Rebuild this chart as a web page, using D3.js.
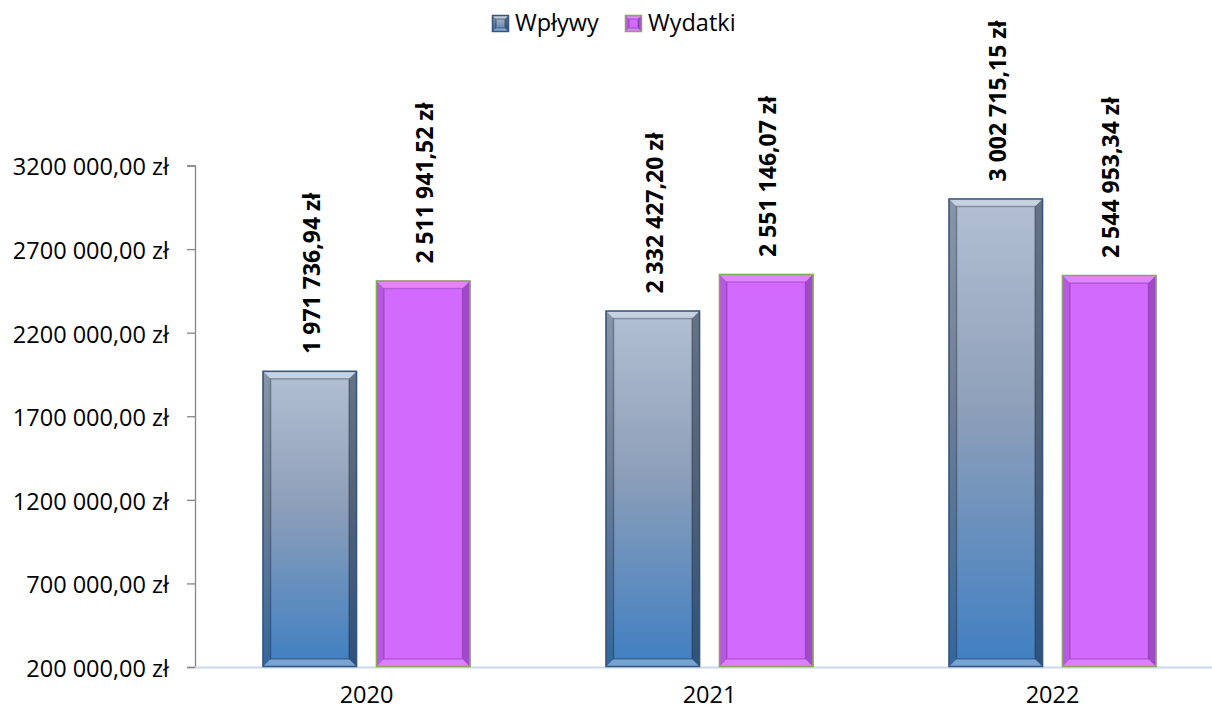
<!DOCTYPE html>
<html>
<head>
<meta charset="utf-8">
<script src="https://cdn.jsdelivr.net/npm/d3@7"></script>
<style>
  body { margin: 0; background: #fff; }
  svg text { font-family: "Open Sans", "Noto Sans", sans-serif; fill: #000; }
</style>
</head>
<body>
<svg id="chart" width="1212" height="711"></svg>
<script>
// dane
const years = ["2020", "2021", "2022"];
const seriesNames = ["Wpływy", "Wydatki"];
const wplywy = [1971736.94, 2332427.20, 3002715.15];
const wydatki = [2511941.52, 2551146.07, 2544953.34];
const valueLabels = [
  ["1 971 736,94 zł", "2 332 427,20 zł", "3 002 715,15 zł"],
  ["2 511 941,52 zł", "2 551 146,07 zł", "2 544 953,34 zł"]
];
const yTicks = [200000, 700000, 1200000, 1700000, 2200000, 2700000, 3200000];
const yTickLabels = ["200 000,00 zł", "700 000,00 zł", "1200 000,00 zł", "1700 000,00 zł",
                     "2200 000,00 zł", "2700 000,00 zł", "3200 000,00 zł"];

const svg = d3.select("#chart");
const plotLeft = 195, plotRight = 1224, plotTop = 165.5, plotBottom = 667;

const x0 = d3.scaleBand().domain(years).range([plotLeft, plotRight])
  .paddingInner(0.394).paddingOuter(0.197);
const x1 = d3.scaleBand().domain(seriesNames).range([0, x0.bandwidth()])
  .paddingInner(0.167).paddingOuter(0);
const y = d3.scaleLinear().domain([200000, 3200000]).range([plotBottom, plotTop]);

// gradienty
const defs = svg.append("defs");
const gBlue = defs.append("linearGradient").attr("id", "gBlue")
  .attr("x1", 0).attr("y1", 0).attr("x2", 0).attr("y2", 1);
gBlue.append("stop").attr("offset", "0%").attr("stop-color", "#b3c0d3");
gBlue.append("stop").attr("offset", "45%").attr("stop-color", "#8e9fb9");
gBlue.append("stop").attr("offset", "100%").attr("stop-color", "#3f7fc2");

const styles = {
  "Wpływy": { fill: "url(#gBlue)", stroke: "#36557d", light: "#dfe8f5", dark: "#1a2638" },
  "Wydatki": { fill: "#d36afe", stroke: "#86a85c", light: "#f2a6ff", dark: "#6e2a94" }
};

// rysowanie słupka z fazowaniem
function bevelBar(g, x, yTop, w, h, st, b) {
  g.append("rect").attr("x", x).attr("y", yTop).attr("width", w).attr("height", h)
    .attr("fill", st.fill);
  const pts = [
    { p: [[x, yTop], [x + w, yTop], [x + w - b, yTop + b], [x + b, yTop + b]], c: st.light, o: 0.45 },
    { p: [[x, yTop + h], [x + w, yTop + h], [x + w - b, yTop + h - b], [x + b, yTop + h - b]], c: st.light, o: 0.35 },
    { p: [[x, yTop], [x + b, yTop + b], [x + b, yTop + h - b], [x, yTop + h]], c: st.dark, o: 0.28 },
    { p: [[x + w, yTop], [x + w - b, yTop + b], [x + w - b, yTop + h - b], [x + w, yTop + h]], c: st.dark, o: 0.5 }
  ];
  pts.forEach(d => {
    g.append("polygon").attr("points", d.p.map(q => q.join(",")).join(" "))
      .attr("fill", d.c).attr("fill-opacity", d.o);
  });
  g.append("rect").attr("x", x + b).attr("y", yTop + b).attr("width", Math.max(0, w - 2 * b))
    .attr("height", Math.max(0, h - 2 * b)).attr("fill", "none")
    .attr("stroke", st.dark).attr("stroke-opacity", 0.35).attr("stroke-width", 1.5);
  g.append("rect").attr("x", x + 0.5).attr("y", yTop + 0.5).attr("width", w - 1).attr("height", h - 1)
    .attr("fill", "none").attr("stroke", st.stroke).attr("stroke-width", 1.5);
}

// oś Y
const yAxis = svg.append("g").attr("transform", `translate(${plotLeft},0)`)
  .call(d3.axisLeft(y).tickValues(yTicks).tickSize(8).tickPadding(18)
    .tickFormat((d, i) => yTickLabels[i]));
yAxis.select(".domain").attr("stroke", "#868686").attr("stroke-width", 1.3);
yAxis.selectAll(".tick line").attr("stroke", "#868686").attr("stroke-width", 1.3);
yAxis.selectAll(".tick text").style("font-size", "23.5px").attr("dy", "0.4em");

// oś X
svg.append("line").attr("x1", plotLeft).attr("x2", plotRight)
  .attr("y1", plotBottom + 0.5).attr("y2", plotBottom + 0.5)
  .attr("stroke", "#c9d8ec").attr("stroke-width", 2);
svg.append("g").selectAll("text").data(years).enter().append("text")
  .attr("x", d => x0(d) + x0.bandwidth() / 2)
  .attr("y", 703)
  .attr("text-anchor", "middle")
  .style("font-size", "23.5px")
  .text(d => d);

// słupki
const data = [wplywy, wydatki];
const bars = svg.append("g");
seriesNames.forEach((s, si) => {
  years.forEach((yr, i) => {
    const v = data[si][i];
    const bx = x0(yr) + x1(s);
    const by = y(v);
    bevelBar(bars, bx, by, x1.bandwidth(), plotBottom - by, styles[s], 8);
    const cx = bx + x1.bandwidth() / 2 + 2;
    bars.append("text")
      .attr("transform", `translate(${cx},${by - 17}) rotate(-90)`)
      .attr("dy", "0.36em")
      .style("font-size", "23px")
      .style("font-weight", "bold")
      .text(valueLabels[si][i]);
  });
});

// legenda
const legendX = [492, 625];
const legend = svg.append("g");
seriesNames.forEach((s, i) => {
  bevelBar(legend, legendX[i], 15, 17, 17, styles[s], 4);
  legend.append("text").attr("x", legendX[i] + 23).attr("y", 31)
    .style("font-size", "23.5px").text(s);
});
</script>
</body>
</html>
